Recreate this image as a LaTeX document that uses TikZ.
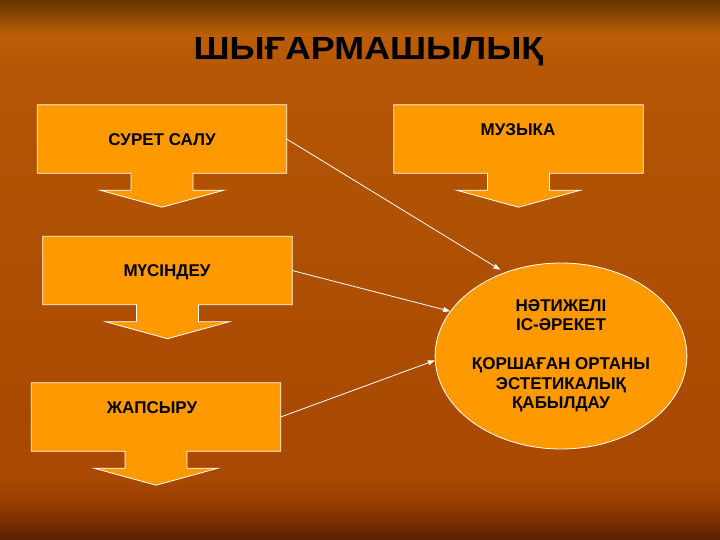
\documentclass[tikz,border=0pt]{standalone}
\usepackage{fontspec}
\setmainfont{Liberation Sans}
\newfontfamily\titlefont[FakeStretch=1.12]{Liberation Sans}
\usetikzlibrary{calc,shapes.geometric,arrows.meta}

\definecolor{bgtop}{RGB}{100,52,0}
\definecolor{bgtopo}{RGB}{188,94,5}
\definecolor{bgmidup}{RGB}{180,86,4}
\definecolor{bgmid}{RGB}{168,72,2}
\definecolor{bglow}{RGB}{148,60,0}
\definecolor{bgbot}{RGB}{88,32,0}
\definecolor{boxorange}{RGB}{255,153,0}

\pgfdeclareverticalshading{slidebg}{100bp}{color(0bp)=(bgbot); color(25bp)=(bgbot);
  color(28.2bp)=(bglow); color(30.6bp)=(bgmid); color(68.5bp)=(bgmidup);
  color(71.8bp)=(bgtopo); color(75bp)=(bgtop); color(100bp)=(bgtop)}

\tikzset{
  box/.style={rectangle, minimum width=249pt, minimum height=68pt, inner sep=0pt},
  callout/.style={fill=boxorange, draw=white, line width=0.8pt},
  lbl/.style={font=\fontsize{17pt}{19.5pt}\selectfont\bfseries},
  result/.style={ellipse, fill=boxorange, draw=white, line width=0.8pt,
    minimum width=244pt, minimum height=186pt, inner sep=0pt, align=center,
    font=\fontsize{17pt}{19.5pt}\selectfont\bfseries},
  conn/.style={white, line width=0.8pt, -{Triangle[length=7pt,width=5pt]}}
}

% rectangle with a down arrow under it
\newcommand{\calloutbox}[1]{%
  \draw[callout] (#1.north west) -- (#1.north east) -- (#1.south east)
    -- ($(#1.south)+(31,0)$) -- ++(0,17) -- ++(31,0) -- ($(#1.south)+(0,34)$)
    -- ++(-62,-17) -- ++(31,0) -- ++(0,-17) -- (#1.south west) -- cycle;}

\begin{document}
\begin{tikzpicture}[x=1pt,y=-1pt]
\useasboundingbox (0,0) rectangle (720,540);
\shade[shading=slidebg] (0,0) rectangle (720,540);

\node[font=\titlefont\bfseries\fontsize{32pt}{36pt}\selectfont, anchor=base] (title) at (368.5,60) {ШЫҒАРМАШЫЛЫҚ};

\node[box] (sur) at (162,139) {};
\calloutbox{sur}
\node[lbl] (surt) at (162,140) {СУРЕТ САЛУ};

\node[box] (muz) at (518.5,139) {};
\calloutbox{muz}
\node[lbl] (muzt) at (518,130) {МУЗЫКА};

\node[box] (mus) at (167.5,270.5) {};
\calloutbox{mus}
\node[lbl] (must) at (167,272) {МҮСІНДЕУ};

\node[box] (zhap) at (156,417) {};
\calloutbox{zhap}
\node[lbl] (zhapt) at (152,408) {ЖАПСЫРУ};

\node[result] (res) at (561,356) {НӘТИЖЕЛІ\\ІС-ӘРЕКЕТ\\[19.5pt]ҚОРШАҒАН ОРТАНЫ\\ЭСТЕТИКАЛЫҚ\\ҚАБЫЛДАУ};

\draw[conn, shorten >=5pt] (sur.east) -- (res.124);
\draw[conn] (mus.east) -- (res.158);
\draw[conn] (zhap.east) -- (res.182);
\end{tikzpicture}
\end{document}
